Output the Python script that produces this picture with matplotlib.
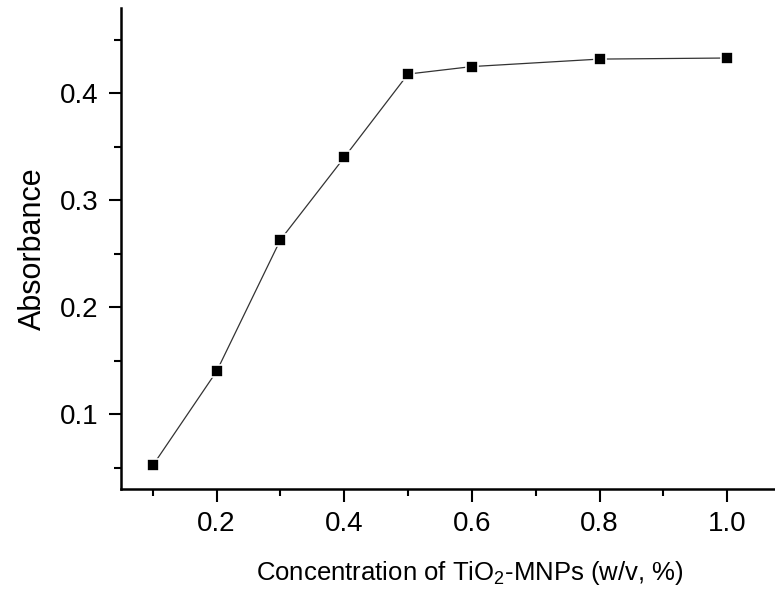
import matplotlib
matplotlib.use("Agg")
import matplotlib.pyplot as plt
from matplotlib.ticker import MultipleLocator

# concentration of TiO2-MNPs (w/v, %) and measured absorbance
concentration = [0.1, 0.2, 0.3, 0.4, 0.5, 0.6, 0.8, 1.0]
absorbance = [0.052, 0.140, 0.263, 0.340, 0.418, 0.425, 0.432, 0.433]

plt.rcParams['font.family'] = ['Liberation Sans', 'DejaVu Sans']
plt.rcParams['mathtext.fontset'] = 'custom'
plt.rcParams['mathtext.rm'] = 'Liberation Sans'
plt.rcParams['mathtext.default'] = 'regular'

fig = plt.figure(figsize=(7.75, 5.97), dpi=100)
ax = fig.add_axes([0.156, 0.181, 0.844, 0.806])

# white marker edge leaves a small gap where the line meets each square
ax.plot(concentration, absorbance, color='#333333', linewidth=0.9,
        marker='s', markersize=8.5, markerfacecolor='black',
        markeredgecolor='white', markeredgewidth=1.2)

ax.set_xlim(0.05, 1.075)
ax.set_ylim(0.03, 0.48)

ax.xaxis.set_major_locator(MultipleLocator(0.2))
ax.xaxis.set_minor_locator(MultipleLocator(0.1))
ax.yaxis.set_major_locator(MultipleLocator(0.1))
ax.yaxis.set_minor_locator(MultipleLocator(0.05))
ax.set_xticks([0.2, 0.4, 0.6, 0.8, 1.0])
ax.set_xticklabels(['0.2', '0.4', '0.6', '0.8', '1.0'])
ax.set_yticks([0.1, 0.2, 0.3, 0.4])

for side in ['top', 'right']:
    ax.spines[side].set_visible(False)
for side in ['left', 'bottom']:
    ax.spines[side].set_linewidth(1.8)

ax.tick_params(which='major', direction='out', length=9, width=1.5,
               labelsize=20, pad=7)
ax.tick_params(which='minor', direction='out', length=5, width=1.5)

ax.set_xlabel('Concentration of TiO$_2$-MNPs (w/v, %)', fontsize=18.5, labelpad=16)
ax.xaxis.label.set_x(0.534)
ax.set_ylabel('Absorbance', fontsize=22, labelpad=9)

fig.savefig('out.png', dpi=100)
